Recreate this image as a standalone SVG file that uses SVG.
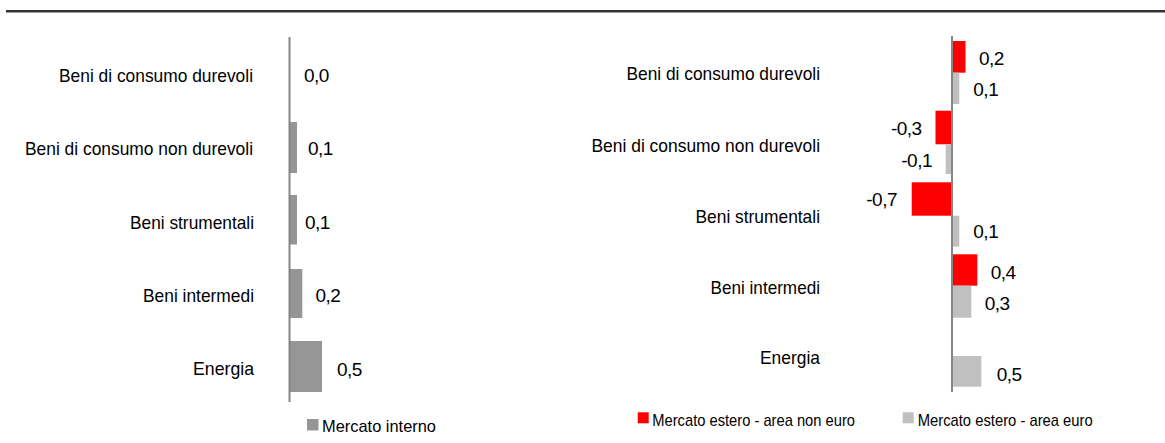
<svg xmlns="http://www.w3.org/2000/svg" width="1165" height="443" viewBox="0 0 1165 443">
<style>
text{font-family:"Liberation Sans",Arial,sans-serif;fill:#000}
.lab{font-size:19px;text-anchor:end}
.val{font-size:19px;letter-spacing:-0.5px}
.vale{font-size:19px;letter-spacing:-0.5px;text-anchor:end}
.leg{font-size:17px}
.axis{stroke:#868686;stroke-width:2;fill:none}
.gl{fill:#969696}
.gr{fill:#C0C0C0}
.rd{fill:#FF0000}
</style>
<rect width="1165" height="443" fill="#fff"/>
<line x1="6" y1="11.2" x2="1165" y2="11.2" stroke="#333" stroke-width="2.4"/>

<g id="left-chart">
  <g id="left-categories">
    <text class="lab" x="253" y="82" textLength="194" lengthAdjust="spacingAndGlyphs">Beni di consumo durevoli</text>
    <text class="lab" x="253" y="155" textLength="228" lengthAdjust="spacingAndGlyphs">Beni di consumo non durevoli</text>
    <text class="lab" x="254" y="229" textLength="124" lengthAdjust="spacingAndGlyphs">Beni strumentali</text>
    <text class="lab" x="254" y="302" textLength="111" lengthAdjust="spacingAndGlyphs">Beni intermedi</text>
    <text class="lab" x="254" y="375" textLength="61" lengthAdjust="spacingAndGlyphs">Energia</text>
  </g>
  <g id="left-bars">
    <rect class="gl" x="290" y="122" width="7" height="51"/>
    <rect class="gl" x="290" y="195" width="7" height="49.5"/>
    <rect class="gl" x="290" y="269" width="12.3" height="49"/>
    <rect class="gl" x="290" y="341" width="32" height="51"/>
  </g>
  <g id="left-values">
    <text class="val" x="304" y="82">0,0</text>
    <text class="val" x="308" y="155">0,1</text>
    <text class="val" x="305" y="228.5">0,1</text>
    <text class="val" x="315.5" y="301.5">0,2</text>
    <text class="val" x="337" y="375.5">0,5</text>
  </g>
  <line class="axis" x1="289.5" y1="37" x2="289.5" y2="402"/>
  <g id="left-legend">
    <rect class="gl" x="307" y="419" width="11.5" height="11.5"/>
    <text class="leg" x="322" y="432" textLength="114" lengthAdjust="spacingAndGlyphs">Mercato interno</text>
  </g>
</g>

<g id="right-chart">
  <g id="right-categories">
    <text class="lab" x="820" y="79.5" textLength="193.5" lengthAdjust="spacingAndGlyphs">Beni di consumo durevoli</text>
    <text class="lab" x="820" y="151.5" textLength="228.5" lengthAdjust="spacingAndGlyphs">Beni di consumo non durevoli</text>
    <text class="lab" x="820" y="222.5" textLength="124.5" lengthAdjust="spacingAndGlyphs">Beni strumentali</text>
    <text class="lab" x="820" y="294" textLength="109.5" lengthAdjust="spacingAndGlyphs">Beni intermedi</text>
    <text class="lab" x="820" y="363.5" textLength="60" lengthAdjust="spacingAndGlyphs">Energia</text>
  </g>
  <g id="right-bars-non-euro">
    <rect class="rd" x="952" y="41" width="13.5" height="31.7"/>
    <rect class="rd" x="935.5" y="110.7" width="16.5" height="33.6"/>
    <rect class="rd" x="911.7" y="182.3" width="40.3" height="33.4"/>
    <rect class="rd" x="952" y="254.3" width="25.3" height="31.4"/>
  </g>
  <g id="right-bars-euro">
    <rect class="gr" x="952" y="72.7" width="7.3" height="31.3"/>
    <rect class="gr" x="945.7" y="144.3" width="6.3" height="29.7"/>
    <rect class="gr" x="952" y="215.7" width="7.3" height="31"/>
    <rect class="gr" x="952" y="285.7" width="19.3" height="32"/>
    <rect class="gr" x="952" y="356" width="29.3" height="30.7"/>
  </g>
  <line class="axis" x1="952" y1="36" x2="952" y2="392"/>
  <g id="right-values">
    <text class="val" x="979" y="65">0,2</text>
    <text class="val" x="973.3" y="96">0,1</text>
    <text class="vale" x="921.7" y="135.3">-0,3</text>
    <text class="vale" x="932" y="166.7">-0,1</text>
    <text class="vale" x="897" y="205.7">-0,7</text>
    <text class="val" x="973.3" y="237.5">0,1</text>
    <text class="val" x="990.7" y="279">0,4</text>
    <text class="val" x="984.7" y="310">0,3</text>
    <text class="val" x="996.7" y="381">0,5</text>
  </g>
  <g id="right-legend">
    <rect class="rd" x="637.7" y="412.3" width="11" height="11"/>
    <text class="leg" x="652.3" y="425.7" textLength="202.7" lengthAdjust="spacingAndGlyphs">Mercato estero - area non euro</text>
    <rect class="gr" x="902.7" y="412.3" width="11" height="11"/>
    <text class="leg" x="917.7" y="425.7" textLength="175" lengthAdjust="spacingAndGlyphs">Mercato estero - area euro</text>
  </g>
</g>
</svg>
